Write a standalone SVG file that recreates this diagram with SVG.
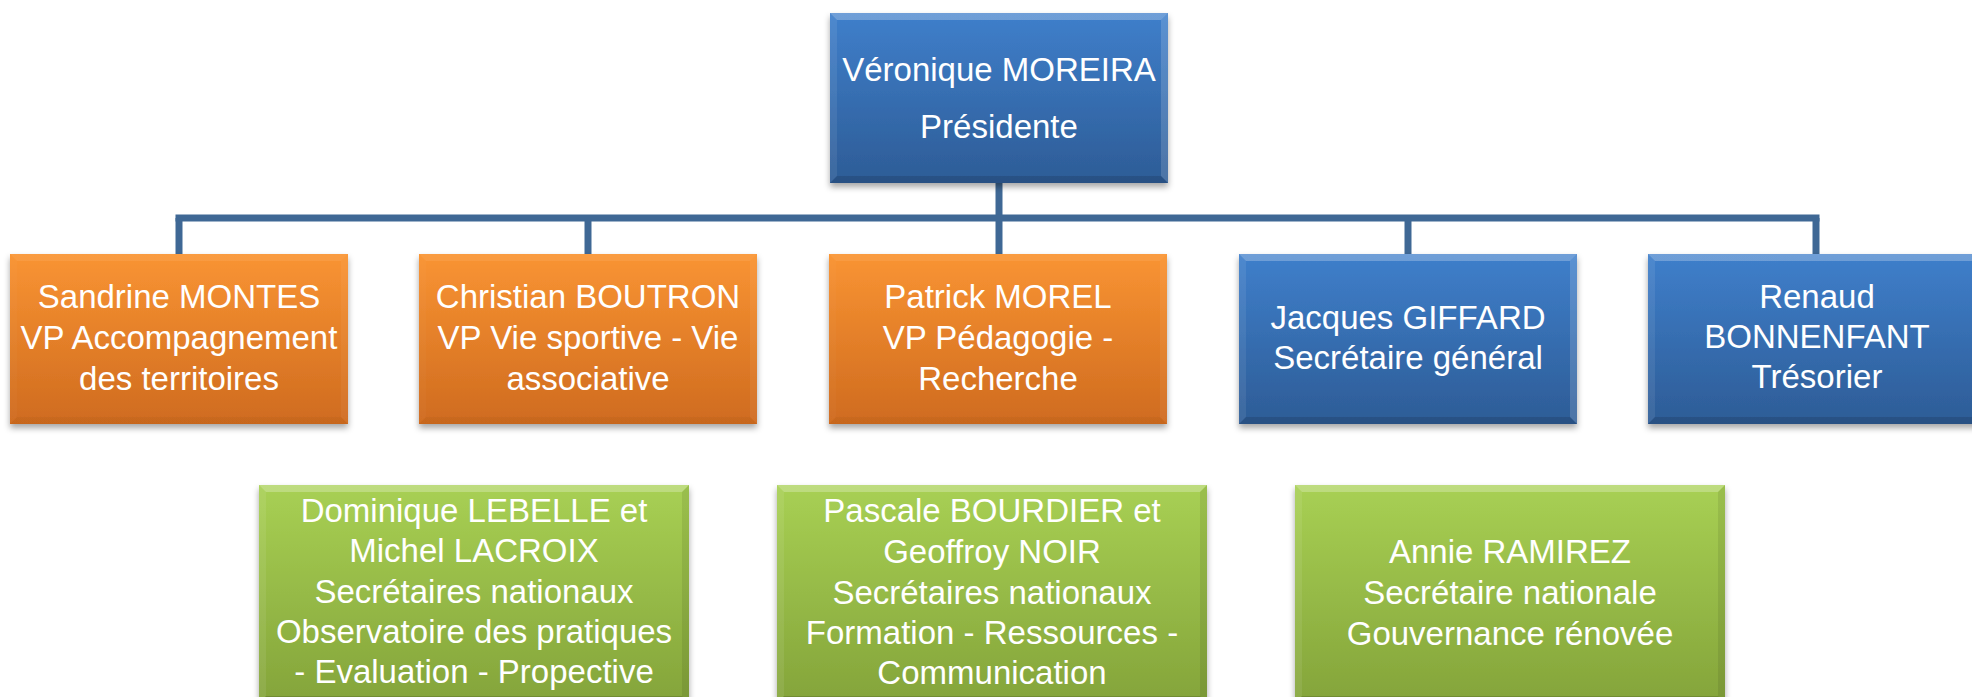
<svg xmlns="http://www.w3.org/2000/svg" xmlns:xlink="http://www.w3.org/1999/xlink" width="1972" height="697" viewBox="0 0 1972 697">
<defs>
<linearGradient id="gBlue" x1="0" y1="0" x2="0" y2="1"><stop offset="0" stop-color="#3F7FCB"/><stop offset="1" stop-color="#2D5C96"/></linearGradient>
<linearGradient id="gOrange" x1="0" y1="0" x2="0" y2="1"><stop offset="0" stop-color="#F99433"/><stop offset="1" stop-color="#CF6B1F"/></linearGradient>
<linearGradient id="gGreen" x1="0" y1="0" x2="0" y2="1"><stop offset="0" stop-color="#A8D054"/><stop offset="1" stop-color="#84A43A"/></linearGradient>
<filter id="shadow" x="-5%" y="-5%" width="110%" height="115%"><feDropShadow dx="0" dy="4" stdDeviation="3" flood-color="#000" flood-opacity="0.35"/></filter>
<g id="bevelA">
<polygon points="0,0 338,0 331,7 7,7" fill="#fff" fill-opacity="0.25"/>
<polygon points="0,0 7,7 7,163 0,170" fill="#fff" fill-opacity="0.08"/>
<polygon points="338,0 338,170 331,163 331,7" fill="#fff" fill-opacity="0.15"/>
<polygon points="0,170 7,163 331,163 338,170" fill="#000" fill-opacity="0.12"/>
</g>
<g id="bevelG">
<polygon points="0,0 430,0 423,7 7,7" fill="#fff" fill-opacity="0.25"/>
<polygon points="0,0 7,7 7,211 0,218" fill="#fff" fill-opacity="0.08"/>
<polygon points="430,0 430,218 423,211 423,7" fill="#000" fill-opacity="0.08"/>
<polygon points="0,218 7,211 423,211 430,218" fill="#000" fill-opacity="0.15"/>
</g>
</defs>
<style>
.lbl{font-family:"Liberation Sans",Arial,sans-serif;font-size:33px;fill:#fff;text-anchor:middle}
.conn{stroke:#3F6895;stroke-width:7;fill:none}
.box{filter:url(#shadow)}
</style>
<g id="connectors">
<line class="conn" x1="999" y1="183" x2="999" y2="254"/>
<line class="conn" x1="175.5" y1="218" x2="1819.5" y2="218"/>
<line class="conn" x1="179" y1="218" x2="179" y2="254"/>
<line class="conn" x1="588" y1="218" x2="588" y2="254"/>
<line class="conn" x1="1408" y1="218" x2="1408" y2="254"/>
<line class="conn" x1="1816" y1="218" x2="1816" y2="254"/>
</g>
<g id="node-president">
<rect class="box" x="830" y="13" width="338" height="170" fill="url(#gBlue)"/>
<use xlink:href="#bevelA" x="830" y="13"/>
<text class="lbl" x="999" y="81">Véronique MOREIRA</text>
<text class="lbl" x="999" y="138">Présidente</text>
</g>
<g id="node-montes">
<rect class="box" x="10" y="254" width="338" height="170" fill="url(#gOrange)"/>
<use xlink:href="#bevelA" x="10" y="254" opacity="0.3"/>
<text class="lbl" x="179" y="308">Sandrine MONTES</text>
<text class="lbl" x="179" y="349">VP Accompagnement</text>
<text class="lbl" x="179" y="390">des territoires</text>
</g>
<g id="node-boutron">
<rect class="box" x="419" y="254" width="338" height="170" fill="url(#gOrange)"/>
<use xlink:href="#bevelA" x="419" y="254" opacity="0.3"/>
<text class="lbl" x="588" y="308">Christian BOUTRON</text>
<text class="lbl" x="588" y="349">VP Vie sportive - Vie</text>
<text class="lbl" x="588" y="390">associative</text>
</g>
<g id="node-morel">
<rect class="box" x="829" y="254" width="338" height="170" fill="url(#gOrange)"/>
<use xlink:href="#bevelA" x="829" y="254" opacity="0.3"/>
<text class="lbl" x="998" y="308">Patrick MOREL</text>
<text class="lbl" x="998" y="349">VP Pédagogie -</text>
<text class="lbl" x="998" y="390">Recherche</text>
</g>
<g id="node-giffard">
<rect class="box" x="1239" y="254" width="338" height="170" fill="url(#gBlue)"/>
<use xlink:href="#bevelA" x="1239" y="254"/>
<text class="lbl" x="1408" y="329">Jacques GIFFARD</text>
<text class="lbl" x="1408" y="369">Secrétaire général</text>
</g>
<g id="node-bonnenfant">
<rect class="box" x="1648" y="254" width="338" height="170" fill="url(#gBlue)"/>
<use xlink:href="#bevelA" x="1648" y="254"/>
<text class="lbl" x="1817" y="308">Renaud</text>
<text class="lbl" x="1817" y="348">BONNENFANT</text>
<text class="lbl" x="1817" y="388">Trésorier</text>
</g>
<g id="node-lebelle-lacroix">
<rect class="box" x="259" y="485" width="430" height="218" fill="url(#gGreen)"/>
<use xlink:href="#bevelG" x="259" y="485"/>
<text class="lbl" x="474" y="522">Dominique LEBELLE et</text>
<text class="lbl" x="474" y="562">Michel LACROIX</text>
<text class="lbl" x="474" y="603">Secrétaires nationaux</text>
<text class="lbl" x="474" y="643">Observatoire des pratiques</text>
<text class="lbl" x="474" y="683">- Evaluation - Propective</text>
</g>
<g id="node-bourdier-noir">
<rect class="box" x="777" y="485" width="430" height="218" fill="url(#gGreen)"/>
<use xlink:href="#bevelG" x="777" y="485"/>
<text class="lbl" x="992" y="522">Pascale BOURDIER et</text>
<text class="lbl" x="992" y="563">Geoffroy NOIR</text>
<text class="lbl" x="992" y="604">Secrétaires nationaux</text>
<text class="lbl" x="992" y="644">Formation - Ressources -</text>
<text class="lbl" x="992" y="684">Communication</text>
</g>
<g id="node-ramirez">
<rect class="box" x="1295" y="485" width="430" height="218" fill="url(#gGreen)"/>
<use xlink:href="#bevelG" x="1295" y="485"/>
<text class="lbl" x="1510" y="563">Annie RAMIREZ</text>
<text class="lbl" x="1510" y="604">Secrétaire nationale</text>
<text class="lbl" x="1510" y="645">Gouvernance rénovée</text>
</g>
</svg>
